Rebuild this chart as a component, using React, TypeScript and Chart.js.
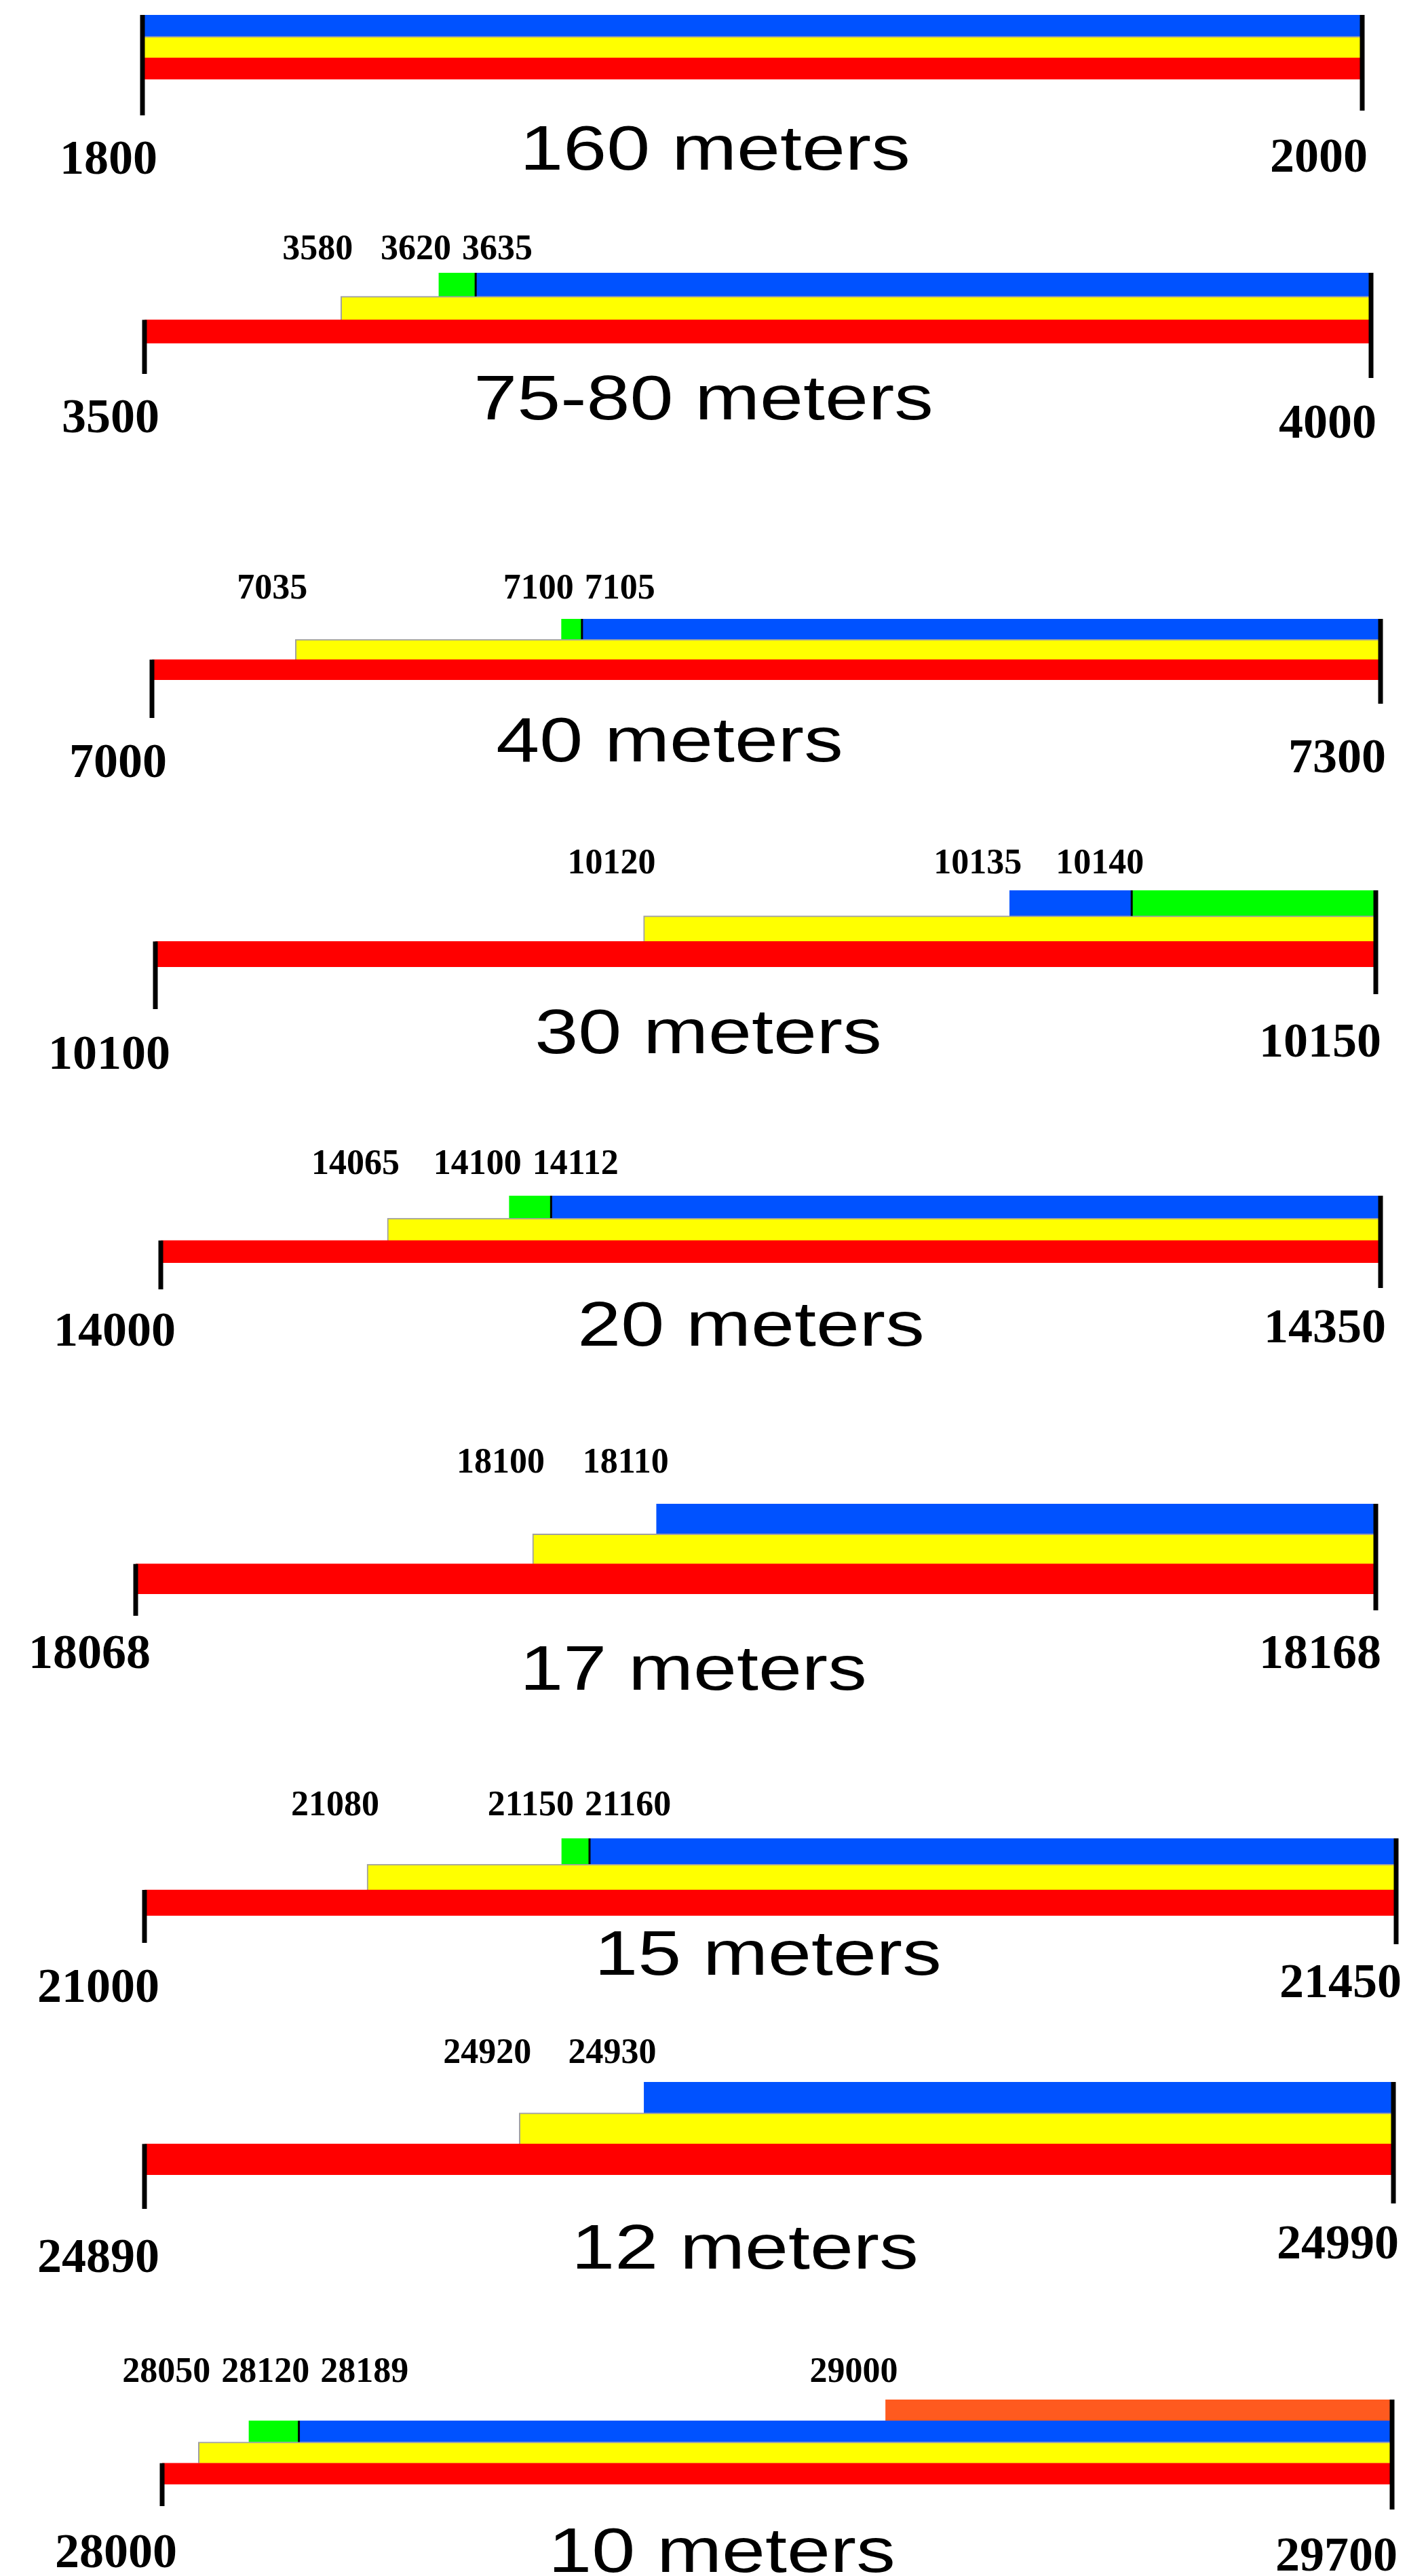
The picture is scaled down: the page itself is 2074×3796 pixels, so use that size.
import React, { useEffect, useRef } from 'react';
import { Chart, registerables } from 'chart.js';

Chart.register(...registerables);

// ---------- data (kHz) ----------
const bandNames = ['160 meters', '75-80 meters', '40 meters', '30 meters', '20 meters', '17 meters', '15 meters', '12 meters', '10 meters'];
const bandMin = [1800, 3500, 7000, 10100, 14000, 18068, 21000, 24890, 28000];
const bandMax = [2000, 4000, 7300, 10150, 14350, 18168, 21450, 24990, 29700];
const yellowStart = [1800, 3580, 7035, 10120, 14065, 18100, 21080, 24920, 28050];
const greenStart: (number | null)[] = [null, 3620, 7100, 10140, 14100, null, 21150, null, 28120];
const greenEnd: (number | null)[] = [null, 3635, 7105, 10150, 14112, null, 21160, null, 28189];
const blueStart = [1800, 3635, 7105, 10135, 14112, 18110, 21160, 24930, 28189];
const blueEnd = [2000, 4000, 7300, 10140, 14350, 18168, 21450, 24990, 29700];
const orangeStart: (number | null)[] = [null, null, null, null, null, null, null, null, 29000];
const orangeEnd: (number | null)[] = [null, null, null, null, null, null, null, null, 29700];
const markerLabels: number[][] = [
  [],
  [3580, 3620, 3635],
  [7035, 7100, 7105],
  [10120, 10135, 10140],
  [14065, 14100, 14112],
  [18100, 18110],
  [21080, 21150, 21160],
  [24920, 24930],
  [28050, 28120, 28189, 29000],
];

// ---------- layout (page pixels) ----------
const PAGE_W = 2074;
const PAGE_H = 3796;
const layout = [
  { top: 22, bottom: 117, left: 210, right: 2008, tickL: 170, tickR: 163, titleX: 1054, titleBase: 250, minBase: 256, maxBase: 253, markBase: 0 },
  { top: 402, bottom: 506, left: 213, right: 2021, tickL: 551, tickR: 557, titleX: 1037, titleBase: 618, minBase: 637, maxBase: 645, markBase: 382 },
  { top: 912, bottom: 1002, left: 224, right: 2035, tickL: 1058, tickR: 1037, titleX: 987, titleBase: 1122, minBase: 1145, maxBase: 1138, markBase: 882 },
  { top: 1312, bottom: 1425, left: 229, right: 2028, tickL: 1487, tickR: 1465, titleX: 1044, titleBase: 1552, minBase: 1575, maxBase: 1557, markBase: 1287 },
  { top: 1762, bottom: 1861, left: 237, right: 2035, tickL: 1900, tickR: 1898, titleX: 1107, titleBase: 1983, minBase: 1983, maxBase: 1978, markBase: 1730 },
  { top: 2216, bottom: 2349, left: 200, right: 2028, tickL: 2381, tickR: 2373, titleX: 1022, titleBase: 2490, minBase: 2458, maxBase: 2458, markBase: 2170 },
  { top: 2709, bottom: 2823, left: 213, right: 2058, tickL: 2863, tickR: 2865, titleX: 1132, titleBase: 2910, minBase: 2950, maxBase: 2943, markBase: 2675 },
  { top: 3068, bottom: 3205, left: 213, right: 2054, tickL: 3255, tickR: 3247, titleX: 1098, titleBase: 3343, minBase: 3348, maxBase: 3328, markBase: 3040 },
  { top: 3536, bottom: 3661, left: 239, right: 2052, tickL: 3693, tickR: 3698, titleX: 1064, titleBase: 3790, minBase: 3783, maxBase: 3788, markBase: 3510 },
];

const RED = '#ff0000';
const YELLOW = '#ffff00';
const GREEN = '#00ff00';
const BLUE = '#0052ff';
const ORANGE = '#ff5a1f';

function makeDecor(i: number, canvasTop: number) {
  return {
    id: 'bandDecor' + i,
    afterDatasetsDraw(chart: any) {
      const { ctx, chartArea, scales } = chart;
      const x = scales.x;
      const y = scales.y;
      const L = layout[i];
      const rows: string[] = chart.data.labels;
      const datasets = chart.data.datasets;
      const bandH = chartArea.height / rows.length;
      const rowTop = (r: number) => y.getPixelForValue(r) - bandH / 2;
      ctx.save();
      ctx.fillStyle = '#000';

      // boundary ticks
      const xMin = x.getPixelForValue(bandMin[i]);
      const xMax = x.getPixelForValue(bandMax[i]);
      let firstRow = rows.length - 1;
      for (let r = 0; r < rows.length; r++) {
        if (datasets.some((ds: any) => ds.data[r] && ds.data[r][0] === bandMin[i])) { firstRow = r; break; }
      }
      const tl = rowTop(firstRow);
      ctx.fillRect(xMin - 3.5, tl, 7, L.tickL - canvasTop - tl);
      ctx.fillRect(xMax - 3.5, chartArea.top, 7, L.tickR - canvasTop - chartArea.top);

      // separators between adjacent segments on the same row
      rows.forEach((_, r) => {
        const segs = datasets.map((ds: any) => ds.data[r]).filter(Boolean);
        segs.forEach((a: number[]) => segs.forEach((b: number[]) => {
          if (a !== b && a[1] === b[0] && a[1] !== bandMax[i]) {
            ctx.fillRect(x.getPixelForValue(a[1]) - 1.5, rowTop(r), 3, bandH);
          }
        }));
      });

      // band edge labels
      ctx.font = 'bold 72px "Liberation Serif"';
      ctx.textBaseline = 'alphabetic';
      ctx.textAlign = 'right';
      ctx.fillText(String(bandMin[i]), xMin + 22, L.minBase - canvasTop);
      ctx.fillText(String(bandMax[i]), xMax + 8, L.maxBase - canvasTop);

      // sub-band labels above bars (pushed apart when they collide)
      const marks = markerLabels[i].slice().sort((a, b) => a - b);
      ctx.font = 'bold 52px "Liberation Serif"';
      ctx.textAlign = 'left';
      let prevRight = -Infinity;
      marks.forEach((v) => {
        const w = ctx.measureText(String(v)).width;
        let left = x.getPixelForValue(v) + 18 - w;
        if (left < prevRight + 16) left = prevRight + 16;
        ctx.fillText(String(v), left, L.markBase - canvasTop);
        prevRight = left + w;
      });

      // band title
      ctx.font = '92px "Liberation Sans"';
      ctx.textAlign = 'center';
      ctx.translate(L.titleX, L.titleBase - canvasTop);
      ctx.scale(1.25, 1);
      ctx.fillText(bandNames[i], 0, 0);
      ctx.restore();
    },
  };
}

function Band({ i }: { i: number }) {
  const ref = useRef<HTMLCanvasElement>(null);
  const L = layout[i];
  const canvasTop = Math.max(0, L.top - 120);
  const canvasBottom = Math.min(PAGE_H, Math.max(L.titleBase, L.minBase, L.maxBase, L.tickL) + 40);
  const h = canvasBottom - canvasTop;

  useEffect(() => {
    const hasOrange = orangeStart[i] != null;
    const rows = hasOrange ? ['o', 't', 'm', 'b'] : ['t', 'm', 'b'];
    const pick = (row: string, seg: (number | null)[]) =>
      rows.map((r) => (r === row && seg[0] != null ? seg : null));
    const all = [
      { label: 'red', data: pick('b', [bandMin[i], bandMax[i]]), backgroundColor: RED, borderWidth: 0 },
      {
        label: 'yellow', data: pick('m', [yellowStart[i], bandMax[i]]), backgroundColor: YELLOW,
        borderColor: '#a0a0a0', borderWidth: { top: 2, left: 2, right: 0, bottom: 0 }, borderSkipped: false,
      },
      { label: 'green', data: pick('t', [greenStart[i], greenEnd[i]]), backgroundColor: GREEN, borderWidth: 0 },
      { label: 'blue', data: pick('t', [blueStart[i], blueEnd[i]]), backgroundColor: BLUE, borderWidth: 0 },
      { label: 'orange', data: pick('o', [orangeStart[i], orangeEnd[i]]), backgroundColor: ORANGE, borderWidth: 0 },
    ];
    const datasets = all.filter((d) => d.data.some((v) => v != null));
    const chart = new Chart(ref.current as HTMLCanvasElement, {
      type: 'bar',
      data: { labels: rows, datasets: datasets as any },
      options: {
        indexAxis: 'y',
        animation: false,
        responsive: false,
        events: [],
        layout: {
          padding: {
            left: L.left,
            right: PAGE_W - L.right,
            top: L.top - canvasTop,
            bottom: canvasBottom - L.bottom,
          },
        },
        datasets: { bar: { grouped: false, barPercentage: 1, categoryPercentage: 1 } } as any,
        plugins: { legend: { display: false }, tooltip: { enabled: false }, title: { display: false } },
        scales: {
          x: { type: 'linear', min: bandMin[i], max: bandMax[i], display: false },
          y: { type: 'category', display: false, offset: true },
        },
      } as any,
      plugins: [makeDecor(i, canvasTop)],
    });
    return () => chart.destroy();
  }, [i]);

  return (
    <canvas
      ref={ref}
      width={PAGE_W}
      height={h}
      style={{ position: 'absolute', left: 0, top: canvasTop, width: PAGE_W, height: h }}
    />
  );
}

export default function App() {
  return (
    <div style={{ position: 'absolute', left: 0, top: 0, width: PAGE_W, height: PAGE_H, overflow: 'hidden', background: '#fff' }}>
      {bandNames.map((_, i) => (
        <Band key={i} i={i} />
      ))}
    </div>
  );
}
